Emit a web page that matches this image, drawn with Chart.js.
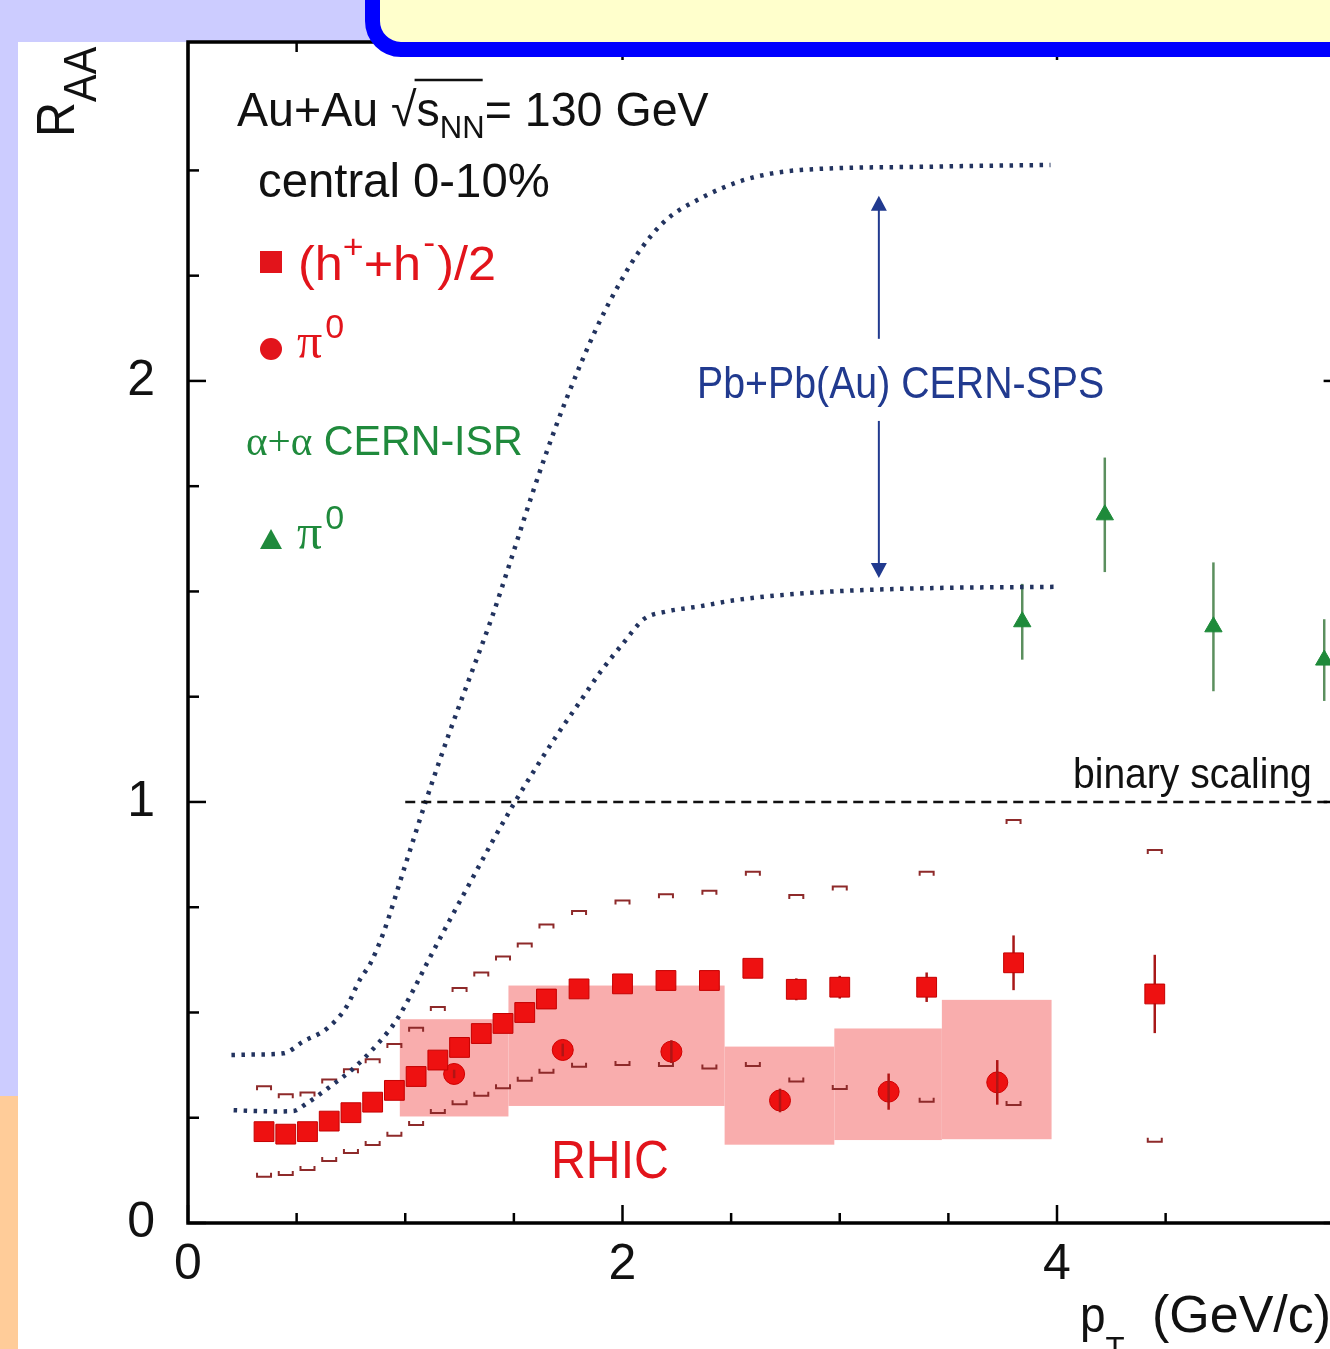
<!DOCTYPE html>
<html>
<head>
<meta charset="utf-8">
<title>R_AA vs pT</title>
<script src="https://cdn.jsdelivr.net/npm/chart.js@4.4.1/dist/chart.umd.min.js"></script>
<style>
  html, body { margin: 0; padding: 0; overflow: hidden; background: #fff; }
  #wrap { position: relative; width: 1330px; height: 1349px; overflow: hidden; }
  canvas { display: block; }
</style>
</head>
<body>
<div id="wrap"><canvas id="chart-raa" width="1360" height="1349"></canvas></div>
<script>
// (h+ + h-)/2, central 0-10%
const hX = [0.35, 0.45, 0.55, 0.65, 0.75, 0.85, 0.95, 1.05, 1.15, 1.25, 1.35, 1.45, 1.55, 1.65, 1.8, 2.0, 2.2, 2.4, 2.6, 2.8, 3.0, 3.4, 3.8, 4.45];
const hY = [0.217, 0.211, 0.217, 0.242, 0.262, 0.287, 0.315, 0.348, 0.387, 0.417, 0.450, 0.474, 0.500, 0.532, 0.556, 0.568, 0.576, 0.576, 0.605, 0.555, 0.560, 0.560, 0.618, 0.544];
const hErr = [0.005, 0.005, 0.005, 0.005, 0.005, 0.005, 0.005, 0.006, 0.006, 0.007, 0.007, 0.008, 0.008, 0.008, 0.01, 0.01, 0.012, 0.012, 0.015, 0.026, 0.027, 0.035, 0.065, 0.093];
const hSysHi = [0.325, 0.306, 0.310, 0.341, 0.365, 0.389, 0.425, 0.464, 0.513, 0.558, 0.595, 0.633, 0.664, 0.709, 0.741, 0.766, 0.781, 0.789, 0.834, 0.779, 0.799, 0.834, 0.957, 0.886];
const hSysLo = [0.110, 0.114, 0.126, 0.147, 0.166, 0.185, 0.207, 0.233, 0.261, 0.282, 0.302, 0.320, 0.338, 0.357, 0.371, 0.375, 0.373, 0.367, 0.373, 0.336, 0.318, 0.288, 0.280, 0.193];

// pi0, central 0-10%
const pi0X = [1.225, 1.725, 2.225, 2.725, 3.225, 3.725];
const pi0Y = [0.354, 0.411, 0.407, 0.291, 0.312, 0.334];
const pi0Err = [0.010, 0.015, 0.027, 0.028, 0.043, 0.053];

// RHIC pi0 systematic band (bin edges, upper, lower)
const bandEdges = [0.975, 1.475, 2.47, 2.975, 3.47, 3.975];
const bandHi = [0.484, 0.564, 0.419, 0.462, 0.530];
const bandLo = [0.253, 0.278, 0.186, 0.197, 0.199];

// alpha+alpha CERN-ISR pi0
const isrX = [3.84, 4.22, 4.72, 5.23];
const isrY = [1.428, 1.682, 1.416, 1.337];
const isrErr = [0.090, 0.136, 0.153, 0.097];

// Pb+Pb(Au) CERN-SPS range, upper and lower curves
const spsHiX = [0.20, 0.30, 0.44, 0.53, 0.64, 0.73, 0.79, 0.84, 0.90, 1.00, 1.10, 1.20, 1.30, 1.40, 1.48, 1.59, 1.65, 1.74, 1.88, 1.99, 2.08, 2.20, 2.36, 2.54, 2.69, 2.82, 3.43, 3.97];
const spsHiY = [0.399, 0.400, 0.403, 0.431, 0.462, 0.514, 0.577, 0.617, 0.690, 0.850, 1.010, 1.160, 1.300, 1.440, 1.565, 1.740, 1.830, 1.955, 2.125, 2.235, 2.310, 2.382, 2.434, 2.474, 2.493, 2.501, 2.509, 2.513];
const spsLoX = [0.21, 0.30, 0.40, 0.485, 0.546, 0.654, 0.761, 0.869, 0.96, 1.037, 1.10, 1.20, 1.30, 1.40, 1.505, 1.60, 1.70, 1.80, 1.90, 2.00, 2.10, 2.20, 2.36, 2.50, 2.66, 2.97, 3.43, 4.0];
const spsLoY = [0.268, 0.266, 0.265, 0.266, 0.284, 0.324, 0.367, 0.423, 0.482, 0.553, 0.617, 0.715, 0.810, 0.905, 1.000, 1.080, 1.160, 1.235, 1.310, 1.375, 1.435, 1.452, 1.465, 1.478, 1.488, 1.500, 1.508, 1.511];
const spsArrowX = 3.18;
const spsArrowY = [2.44, 2.10, 1.905, 1.532];

// binary scaling reference
const binaryX = [1.0, 5.31];
const binaryY = [1, 1];

// axis tick labels
const xLabelVals = [0, 2, 4];
const yLabelVals = [0, 1, 2];

const SANS = "'Liberation Sans', Arial, Helvetica, sans-serif";
const SERIF = "'Liberation Serif', 'Times New Roman', serif";
const RED = '#e2141b';
const GREEN = '#1f8a3c';
const NAVY = '#213a8f';

const toPts = (xs, ys) => xs.map((v, i) => ({ x: v, y: ys[i] }));

function seg(ctx, x1, y1, x2, y2) {
    ctx.beginPath();
    ctx.moveTo(x1, y1);
    ctx.lineTo(x2, y2);
    ctx.stroke();
}

// draws text parts left to right, returns the x stops
function rich(ctx, x, y, parts, color, sx = 1) {
    const stops = [];
    ctx.save();
    ctx.translate(x, y);
    ctx.scale(sx, 1);
    ctx.fillStyle = color;
    ctx.textBaseline = 'alphabetic';
    ctx.textAlign = 'left';
    let cx = 0;
    parts.forEach(p => {
        ctx.font = p.f;
        cx += p.dx || 0;
        stops.push(x + cx * sx);
        ctx.fillText(p.t, cx, p.dy || 0);
        cx += ctx.measureText(p.t).width;
    });
    stops.push(x + cx * sx);
    ctx.restore();
    return stops;
}

function errorBars(ctx, chart, xs, ys, es, color) {
    const sx = chart.scales.x, sy = chart.scales.y;
    ctx.strokeStyle = color;
    ctx.lineWidth = 2.5;
    xs.forEach((v, i) => {
        const px = sx.getPixelForValue(v);
        seg(ctx, px, sy.getPixelForValue(ys[i] + es[i]), px, sy.getPixelForValue(ys[i] - es[i]));
    });
}

const backdrop = {
    id: 'backdrop',
    beforeDraw(chart) {
        const ctx = chart.ctx;
        ctx.save();
        ctx.fillStyle = '#ffffff';
        ctx.fillRect(0, 0, chart.width, chart.height);
        ctx.fillStyle = '#ccccff';
        ctx.fillRect(0, 0, chart.width, 42);
        ctx.fillRect(0, 0, 18, 1096);
        ctx.fillStyle = '#ffcc99';
        ctx.fillRect(0, 1096, 18, chart.height - 1096);
        ctx.restore();
    }
};

const systematics = {
    id: 'systematics',
    beforeDatasetsDraw(chart) {
        const { ctx, scales: { x, y } } = chart;
        ctx.save();
        // RHIC band
        ctx.fillStyle = '#f9adad';
        bandHi.forEach((hi, i) => {
            const x0 = x.getPixelForValue(bandEdges[i]);
            const x1 = x.getPixelForValue(bandEdges[i + 1]);
            const y0 = y.getPixelForValue(hi);
            const y1 = y.getPixelForValue(bandLo[i]);
            ctx.fillRect(x0, y0, x1 - x0, y1 - y0);
        });
        // systematic brackets for charged hadrons
        ctx.strokeStyle = '#8e2a2a';
        ctx.lineWidth = 2;
        hX.forEach((v, i) => {
            const cx = x.getPixelForValue(v);
            const yt = y.getPixelForValue(hSysHi[i]);
            const yb = y.getPixelForValue(hSysLo[i]);
            ctx.beginPath();
            ctx.moveTo(cx - 7, yt + 4); ctx.lineTo(cx - 7, yt); ctx.lineTo(cx + 7, yt); ctx.lineTo(cx + 7, yt + 4);
            ctx.moveTo(cx - 7, yb - 4); ctx.lineTo(cx - 7, yb); ctx.lineTo(cx + 7, yb); ctx.lineTo(cx + 7, yb - 4);
            ctx.stroke();
        });
        errorBars(ctx, chart, hX, hY, hErr, '#a81818');
        errorBars(ctx, chart, isrX, isrY, isrErr, '#5b8f5e');
        ctx.restore();
    },
    afterDatasetsDraw(chart) {
        const ctx = chart.ctx;
        ctx.save();
        errorBars(ctx, chart, pi0X, pi0Y, pi0Err, '#b01515');
        ctx.restore();
    }
};

const decorations = {
    id: 'decorations',
    afterDraw(chart) {
        const { ctx, chartArea: { left, right, top, bottom } } = chart;
        const xs = chart.scales.x, ys = chart.scales.y;
        ctx.save();

        // inward ticks on all four sides
        ctx.strokeStyle = '#000';
        ctx.lineWidth = 2.5;
        xs.ticks.forEach(t => {
            const v = t.value;
            if (Math.abs(v * 2 - Math.round(v * 2)) > 1e-6) return;
            const len = xLabelVals.includes(v) ? 18 : 10;
            const p = xs.getPixelForValue(v);
            seg(ctx, p, bottom, p, bottom - len);
            seg(ctx, p, top, p, top + len);
        });
        ys.ticks.forEach(t => {
            const v = t.value;
            if (Math.abs(v * 4 - Math.round(v * 4)) > 1e-6) return;
            const len = yLabelVals.includes(v) ? 18 : 11;
            const p = ys.getPixelForValue(v);
            seg(ctx, left, p, left + len, p);
            seg(ctx, right, p, right - len, p);
        });
        ctx.lineWidth = 3.5;
        ctx.strokeRect(left, top, right - left, bottom - top);

        // SPS double arrow
        const ax = xs.getPixelForValue(spsArrowX);
        const [yTip, yGap1, yGap2, yTip2] = spsArrowY.map(v => ys.getPixelForValue(v));
        ctx.strokeStyle = NAVY;
        ctx.fillStyle = NAVY;
        ctx.lineWidth = 2;
        seg(ctx, ax, yTip + 14, ax, yGap1);
        seg(ctx, ax, yGap2, ax, yTip2 - 14);
        ctx.beginPath();
        ctx.moveTo(ax, yTip); ctx.lineTo(ax - 8, yTip + 15); ctx.lineTo(ax + 8, yTip + 15); ctx.closePath();
        ctx.moveTo(ax, yTip2); ctx.lineTo(ax - 8, yTip2 - 15); ctx.lineTo(ax + 8, yTip2 - 15); ctx.closePath();
        ctx.fill();

        // header text
        const hdr = rich(ctx, 237, 126, [
            { t: 'Au+Au ', f: `48px ${SANS}` },
            { t: '\u221A', f: `48px ${SANS}` },
            { t: 's', f: `48px ${SANS}` },
            { t: 'NN', f: `32px ${SANS}`, dy: 12 },
            { t: '= 130 GeV', f: `48px ${SANS}` }
        ], '#111', 0.97);
        ctx.strokeStyle = '#111';
        ctx.lineWidth = 2.5;
        seg(ctx, hdr[2] - 2, 80, hdr[4] - 2, 80);
        rich(ctx, 258, 197, [{ t: 'central 0-10%', f: `49px ${SANS}` }], '#111', 0.965);

        // legend
        ctx.fillStyle = RED;
        ctx.fillRect(260, 251, 22, 22);
        rich(ctx, 298, 280, [
            { t: '(h', f: `48px ${SANS}` },
            { t: '+', f: `34px ${SANS}`, dy: -22 },
            { t: '+h', f: `48px ${SANS}` },
            { t: '-', f: `34px ${SANS}`, dy: -26, dx: 2 },
            { t: ')/2', f: `48px ${SANS}`, dx: 2 }
        ], RED, 1.05);
        ctx.fillStyle = RED;
        ctx.beginPath();
        ctx.arc(271, 349, 11, 0, Math.PI * 2);
        ctx.fill();
        rich(ctx, 297, 358, [
            { t: '\u03C0', f: `50px ${SERIF}` },
            { t: '0', f: `34px ${SANS}`, dy: -20, dx: 3 }
        ], RED);
        rich(ctx, 246, 455, [
            { t: '\u03B1+\u03B1', f: `42px ${SERIF}` },
            { t: ' CERN-ISR', f: `42px ${SANS}` }
        ], GREEN, 0.98);
        ctx.fillStyle = GREEN;
        ctx.beginPath();
        ctx.moveTo(271, 529); ctx.lineTo(282, 549); ctx.lineTo(260, 549); ctx.closePath();
        ctx.fill();
        rich(ctx, 297, 549, [
            { t: '\u03C0', f: `50px ${SERIF}` },
            { t: '0', f: `34px ${SANS}`, dy: -20, dx: 3 }
        ], GREEN);

        // annotations
        rich(ctx, 697, 398, [{ t: 'Pb+Pb(Au) CERN-SPS', f: `44px ${SANS}` }], NAVY, 0.893);
        rich(ctx, 1073, 788, [{ t: 'binary scaling', f: `42px ${SANS}` }], '#111', 0.93);
        rich(ctx, 551, 1178, [{ t: 'RHIC', f: `53px ${SANS}` }], RED, 0.91);

        // axis titles
        ctx.save();
        ctx.translate(74, 137);
        ctx.rotate(-Math.PI / 2);
        rich(ctx, 0, 0, [
            { t: 'R', f: `54px ${SANS}` },
            { t: 'AA', f: `46px ${SANS}`, dy: 22 }
        ], '#111', 0.9);
        ctx.restore();
        rich(ctx, 1080, 1332, [
            { t: 'p', f: `50px ${SANS}` },
            { t: 'T', f: `34px ${SANS}`, dy: 28 }
        ], '#111', 0.92);
        rich(ctx, 1152, 1332, [{ t: '(GeV/c)', f: `52px ${SANS}` }], '#111', 1);

        // slide title box, top right
        ctx.beginPath();
        ctx.roundRect(372.5, -200, 1200, 249.5, 28.5);
        ctx.fillStyle = '#ffffcc';
        ctx.fill();
        ctx.lineWidth = 15;
        ctx.strokeStyle = '#0000ff';
        ctx.stroke();

        ctx.restore();
    }
};

const chart = new Chart(document.getElementById('chart-raa'), {
    type: 'scatter',
    data: {
        datasets: [
            {
                label: '(h+ + h-)/2',
                data: toPts(hX, hY),
                pointStyle: 'rect',
                pointRadius: 14,
                backgroundColor: '#ee1111',
                borderColor: '#c40000',
                borderWidth: 1,
                order: 1
            },
            {
                label: 'pi0',
                data: toPts(pi0X, pi0Y),
                pointStyle: 'circle',
                pointRadius: 10.5,
                backgroundColor: '#ee1111',
                borderColor: '#d00000',
                borderWidth: 1,
                order: 2
            },
            {
                label: 'alpha+alpha CERN-ISR pi0',
                data: toPts(isrX, isrY),
                pointStyle: 'triangle',
                pointRadius: 10,
                backgroundColor: '#1e8a3a',
                borderColor: '#1e8a3a',
                borderWidth: 1,
                order: 3
            },
            {
                type: 'line',
                label: 'binary scaling',
                data: toPts(binaryX, binaryY),
                borderColor: '#111',
                borderWidth: 2.5,
                borderDash: [10, 6],
                pointRadius: 0,
                fill: false,
                order: 4
            },
            {
                type: 'line',
                label: 'SPS upper',
                data: toPts(spsHiX, spsHiY),
                borderColor: '#22335f',
                borderWidth: 4.5,
                borderDash: [3.5, 6.5],
                pointRadius: 0,
                cubicInterpolationMode: 'monotone',
                fill: false,
                order: 5
            },
            {
                type: 'line',
                label: 'SPS lower',
                data: toPts(spsLoX, spsLoY),
                borderColor: '#22335f',
                borderWidth: 4.5,
                borderDash: [3.5, 6.5],
                pointRadius: 0,
                cubicInterpolationMode: 'monotone',
                fill: false,
                order: 6
            }
        ]
    },
    options: {
        responsive: false,
        animation: false,
        events: [],
        layout: { padding: { left: 0, top: 42, right: 18.4, bottom: 0 } },
        plugins: {
            legend: { display: false },
            tooltip: { enabled: false }
        },
        scales: {
            x: {
                type: 'linear',
                min: 0,
                max: 5.31,
                afterFit: scale => {
                    scale.height = 126;
                    scale.paddingLeft = 0;
                    scale.paddingRight = 0;
                },
                grid: { display: false, drawTicks: false },
                border: { display: false },
                ticks: {
                    stepSize: 0.5,
                    autoSkip: false,
                    maxRotation: 0,
                    padding: 12,
                    color: '#111',
                    font: { size: 50, family: SANS },
                    callback: v => (xLabelVals.includes(v) ? String(v) : '')
                }
            },
            y: {
                type: 'linear',
                min: 0,
                max: 2.805,
                afterFit: scale => {
                    scale.width = 188;
                    scale.paddingTop = 0;
                    scale.paddingBottom = 0;
                },
                grid: { display: false, drawTicks: false },
                border: { display: false },
                ticks: {
                    stepSize: 0.25,
                    autoSkip: false,
                    padding: 33,
                    color: '#111',
                    font: { size: 50, family: SANS },
                    callback: v => (yLabelVals.includes(v) ? String(v) : '')
                }
            }
        }
    },
    plugins: [backdrop, systematics, decorations]
});
</script>
</body>
</html>
